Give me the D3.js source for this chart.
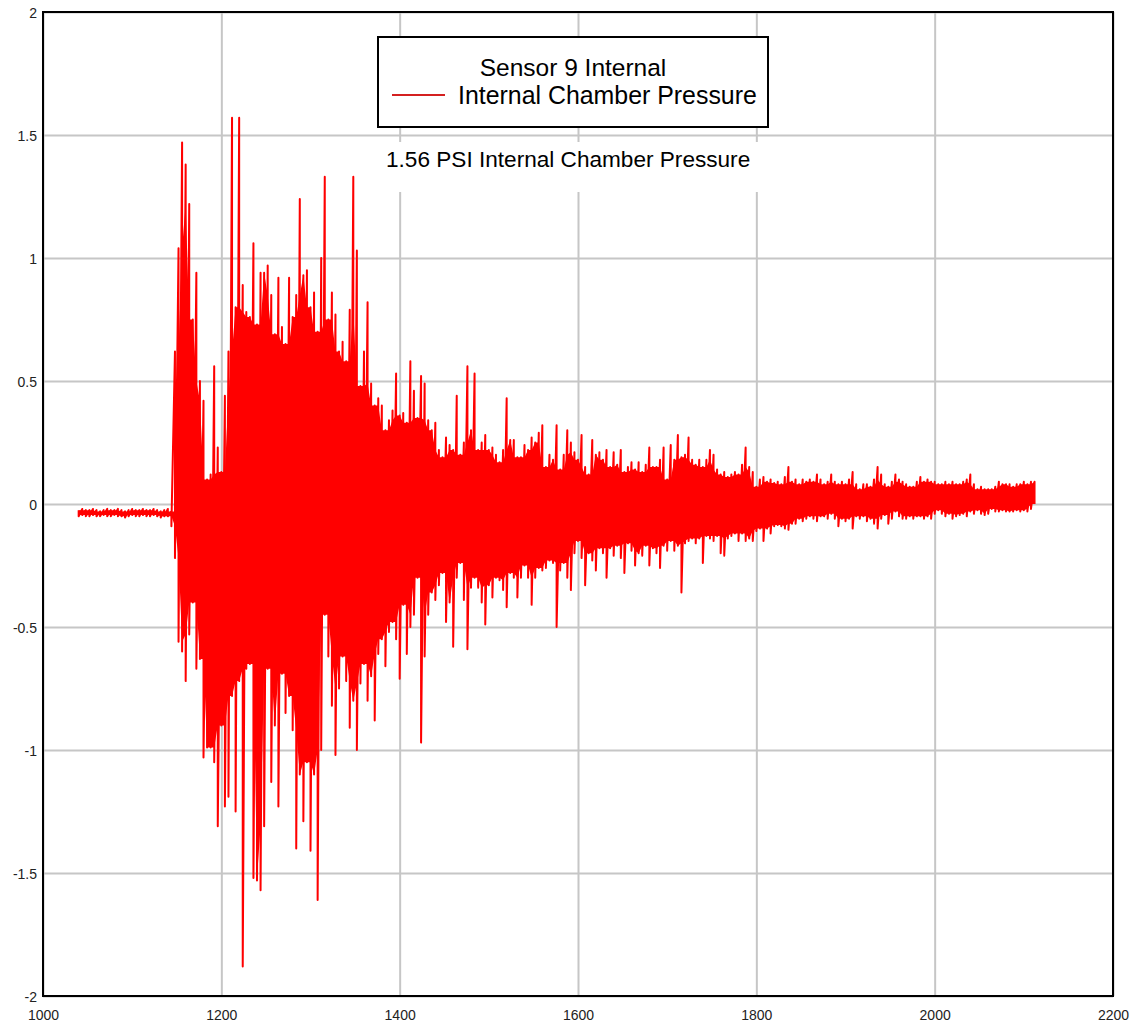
<html>
<head>
  <meta http-equiv="Content-Type" content="text/html;charset=utf-8"/>
  <script src="https://cdn.jsdelivr.net/npm/d3@7"></script>
  <style>
    body { margin: 0; background: #fff; }
    text { font-family: "Liberation Sans", Arial, sans-serif; }
    .grid line { stroke: #c6c6c6; stroke-width: 2; }
    .grid path { display: none; }
    .lbl path, .lbl line { display: none; }
    .lbl text { font-size: 14px; fill: #222; }
  </style>
</head>
<body>
<div id="chart"></div>
<script>
  var sampleStart = 1040;
  var sampleStep = 4;

  var upper = [
    -0.025,-0.02,-0.025,-0.025,-0.02,-0.025,-0.03,-0.025,-0.02,-0.025, // 1040
    -0.025,-0.02,-0.025,-0.03,-0.025,-0.02,-0.025,-0.025,-0.02,-0.025, // 1080
    -0.025,-0.02,-0.025,-0.03,-0.025,-0.02,-0.03,0.62,1.04,1.47,       // 1120
    1.38,1.22,0.75,0.94,0.50,0.42,0.10,0.12,0.56,0.23,                 // 1160
    0.13,0.44,0.62,1.57,0.80,1.57,0.89,0.78,0.76,1.06,                 // 1200
    0.73,0.94,0.94,0.97,0.85,0.69,0.92,0.72,0.65,0.92,                 // 1240
    0.76,0.85,1.24,0.93,0.95,0.80,0.86,0.70,1.00,1.33,                 // 1280
    0.75,0.86,0.77,0.62,0.66,0.58,0.79,1.33,1.03,0.48,                 // 1320
    0.62,0.82,0.49,0.40,0.43,0.40,0.30,0.34,0.38,0.53,                 // 1360
    0.36,0.37,0.33,0.58,0.46,0.35,0.52,0.49,0.34,0.30,                 // 1400
    0.33,0.22,0.19,0.27,0.24,0.22,0.44,0.20,0.25,0.56,                 // 1440
    0.30,0.53,0.22,0.25,0.28,0.22,0.23,0.20,0.17,0.22,                 // 1480
    0.43,0.26,0.26,0.19,0.19,0.24,0.22,0.27,0.25,0.29,                 // 1520
    0.32,0.15,0.20,0.18,0.32,0.14,0.20,0.30,0.25,0.21,                 // 1560
    0.18,0.28,0.15,0.12,0.26,0.20,0.21,0.18,0.22,0.15,                 // 1600
    0.21,0.16,0.22,0.13,0.15,0.17,0.14,0.17,0.13,0.16,                 // 1640
    0.23,0.15,0.15,0.18,0.23,0.10,0.24,0.18,0.28,0.19,                 // 1680
    0.20,0.27,0.18,0.16,0.18,0.15,0.18,0.22,0.20,0.14,                 // 1720
    0.12,0.13,0.11,0.12,0.13,0.12,0.16,0.23,0.15,0.13,                 // 1760
    0.07,0.10,0.11,0.09,0.10,0.085,0.09,0.08,0.11,0.15,                // 1800
    0.09,0.10,0.08,0.10,0.09,0.10,0.09,0.12,0.10,0.08,                 // 1840
    0.09,0.12,0.09,0.08,0.09,0.08,0.10,0.13,0.08,0.06,                 // 1880
    0.08,0.08,0.07,0.10,0.15,0.12,0.08,0.07,0.09,0.12,                 // 1920
    0.10,0.09,0.08,0.07,0.07,0.09,0.11,0.09,0.10,0.09,                 // 1960
    0.09,0.08,0.08,0.09,0.08,0.09,0.08,0.08,0.09,0.10,                 // 2000
    0.12,0.08,0.06,0.07,0.06,0.06,0.06,0.07,0.09,0.08,                 // 2040
    0.08,0.08,0.07,0.08,0.08,0.09,0.08,0.09,0.09                       // 2080
  ];

  var lower = [
    -0.05,-0.045,-0.05,-0.05,-0.045,-0.05,-0.05,-0.045,-0.05,-0.05,    // 1040
    -0.045,-0.05,-0.05,-0.055,-0.05,-0.045,-0.05,-0.05,-0.045,-0.05,   // 1080
    -0.05,-0.045,-0.05,-0.055,-0.05,-0.05,-0.09,-0.22,-0.56,-0.60,     // 1120
    -0.72,-0.53,-0.40,-0.67,-0.63,-1.03,-0.99,-0.99,-1.05,-1.31,       // 1160
    -0.90,-1.23,-1.19,-0.78,-1.25,-0.72,-1.88,-0.67,-0.65,-1.52,       // 1200
    -1.53,-1.57,-1.31,-0.67,-1.13,-0.90,-1.23,-0.69,-0.85,-0.78,       // 1240
    -0.92,-1.40,-1.10,-1.29,-1.05,-1.41,-1.10,-1.61,-1.00,-0.45,       // 1280
    -0.62,-0.82,-1.02,-0.75,-0.62,-0.72,-0.91,-0.80,-1.00,-0.73,       // 1320
    -0.65,-0.80,-0.70,-0.88,-0.61,-0.55,-0.66,-0.52,-0.48,-0.55,       // 1360
    -0.71,-0.41,-0.61,-0.50,-0.45,-0.30,-0.97,-0.62,-0.45,-0.36,       // 1400
    -0.39,-0.33,-0.28,-0.48,-0.40,-0.58,-0.30,-0.24,-0.39,-0.59,       // 1440
    -0.34,-0.30,-0.34,-0.40,-0.49,-0.33,-0.38,-0.30,-0.31,-0.35,       // 1480
    -0.42,-0.28,-0.30,-0.38,-0.30,-0.25,-0.30,-0.41,-0.30,-0.26,       // 1520
    -0.27,-0.26,-0.23,-0.24,-0.50,-0.27,-0.24,-0.30,-0.35,-0.20,       // 1560
    -0.15,-0.22,-0.33,-0.20,-0.23,-0.27,-0.18,-0.20,-0.30,-0.18,       // 1600
    -0.21,-0.17,-0.22,-0.28,-0.16,-0.19,-0.25,-0.20,-0.21,-0.17,       // 1640
    -0.25,-0.18,-0.20,-0.26,-0.17,-0.19,-0.15,-0.19,-0.17,-0.36,       // 1680
    -0.16,-0.15,-0.14,-0.16,-0.14,-0.24,-0.13,-0.14,-0.15,-0.13,       // 1720
    -0.20,-0.21,-0.14,-0.13,-0.12,-0.15,-0.12,-0.15,-0.14,-0.15,       // 1760
    -0.11,-0.10,-0.15,-0.10,-0.12,-0.09,-0.085,-0.09,-0.10,-0.105,     // 1800
    -0.08,-0.08,-0.06,-0.07,-0.06,-0.05,-0.06,-0.07,-0.05,-0.05,       // 1840
    -0.06,-0.04,-0.06,-0.09,-0.06,-0.07,-0.06,-0.10,-0.05,-0.06,       // 1880
    -0.05,-0.07,-0.06,-0.08,-0.10,-0.06,-0.045,-0.08,-0.06,-0.03,      // 1920
    -0.05,-0.06,-0.06,-0.05,-0.06,-0.05,-0.05,-0.06,-0.05,-0.06,       // 1960
    -0.04,-0.025,-0.04,-0.05,-0.04,-0.06,-0.05,-0.045,-0.04,-0.05,     // 2000
    -0.03,-0.04,-0.025,-0.04,-0.045,-0.04,-0.02,-0.03,-0.03,-0.025,    // 2040
    -0.03,-0.03,-0.03,-0.025,-0.03,-0.025,-0.03,-0.02,0.0              // 2080
  ];

  var xTicks = [1000, 1200, 1400, 1600, 1800, 2000, 2200];
  var yTicks = [-2, -1.5, -1, -0.5, 0, 0.5, 1, 1.5, 2];
  var legendTitle = "Sensor 9 Internal";
  var seriesName = "Internal Chamber Pressure";
  var note = "1.56 PSI Internal Chamber Pressure";

  var W = 1135, H = 1028;
  var m = { left: 43, right: 1113, top: 12, bottom: 996 };

  var svg = d3.select('#chart').append('svg')
    .attr('width', W).attr('height', H);

  var x = d3.scaleLinear().domain([1000, 2200]).range([m.left, m.right]);
  var y = d3.scaleLinear().domain([-2, 2]).range([m.bottom, m.top]);

  // grid
  svg.append('g').attr('class', 'grid')
    .attr('transform', 'translate(0,' + m.bottom + ')')
    .call(d3.axisBottom(x).tickValues(xTicks).tickSize(-(m.bottom - m.top)).tickFormat(''));
  svg.append('g').attr('class', 'grid')
    .attr('transform', 'translate(' + m.left + ',0)')
    .call(d3.axisLeft(y).tickValues(yTicks).tickSize(-(m.right - m.left)).tickFormat(''));

  // tick labels
  svg.append('g').attr('class', 'lbl')
    .attr('transform', 'translate(0,' + m.bottom + ')')
    .call(d3.axisBottom(x).tickValues(xTicks).tickSize(0).tickPadding(14).tickFormat(d3.format('d')));
  var yl = svg.append('g').attr('class', 'lbl')
    .attr('transform', 'translate(' + m.left + ',0)')
    .call(d3.axisLeft(y).tickValues(yTicks).tickSize(0).tickPadding(6).tickFormat(function(d) { return String(d); }));
  yl.selectAll('text').attr('dy', '0.42em');

  var tOf = function(i) { return sampleStart + i * sampleStep; };

  // the trace is so dense that its middle prints solid: fill the band that
  // neighbouring swings all cover, then draw the swings on top
  var n = upper.length;
  var core = upper.map(function(u, i) {
    var a = Math.max(0, i - 1), b = Math.min(n - 1, i + 1);
    return {
      t: tOf(i),
      hi: Math.min(upper[a], u, upper[b]),
      lo: Math.max(lower[a], lower[i], lower[b])
    };
  });
  svg.append('path')
    .datum(core)
    .attr('d', d3.area()
      .x(function(d) { return x(d.t); })
      .y0(function(d) { return y(Math.min(d.lo, d.hi)); })
      .y1(function(d) { return y(d.hi); }))
    .attr('fill', '#ff0000');

  var pts = [];
  upper.forEach(function(u, i) {
    pts.push([tOf(i), u]);
    pts.push([tOf(i), lower[i]]);
  });
  var line = d3.line().x(function(d) { return x(d[0]); }).y(function(d) { return y(d[1]); });
  svg.append('path')
    .datum(pts)
    .attr('d', line)
    .attr('fill', 'none')
    .attr('stroke', '#ff0000')
    .attr('stroke-width', 2)
    .attr('stroke-linejoin', 'round');

  // frame
  svg.append('rect')
    .attr('x', m.left).attr('y', m.top)
    .attr('width', m.right - m.left).attr('height', m.bottom - m.top)
    .attr('fill', 'none').attr('stroke', '#000').attr('stroke-width', 2);

  // legend
  var lg = svg.append('g');
  lg.append('rect')
    .attr('x', 378).attr('y', 37).attr('width', 390).attr('height', 90)
    .attr('fill', '#fff').attr('stroke', '#000').attr('stroke-width', 2);
  lg.append('text')
    .attr('x', 573).attr('y', 76)
    .attr('text-anchor', 'middle')
    .style('font-size', '24.5px')
    .text(legendTitle);
  lg.append('line')
    .attr('x1', 392).attr('x2', 445).attr('y1', 95).attr('y2', 95)
    .attr('stroke', '#d42020').attr('stroke-width', 2);
  lg.append('text')
    .attr('x', 458).attr('y', 104)
    .style('font-size', '24.9px')
    .text(seriesName);

  // note with white backing
  svg.append('rect')
    .attr('x', 376).attr('y', 142).attr('width', 394).attr('height', 50)
    .attr('fill', '#fff');
  svg.append('text')
    .attr('x', 386).attr('y', 167)
    .style('font-size', '22.6px')
    .text(note);
</script>
</body>
</html>
